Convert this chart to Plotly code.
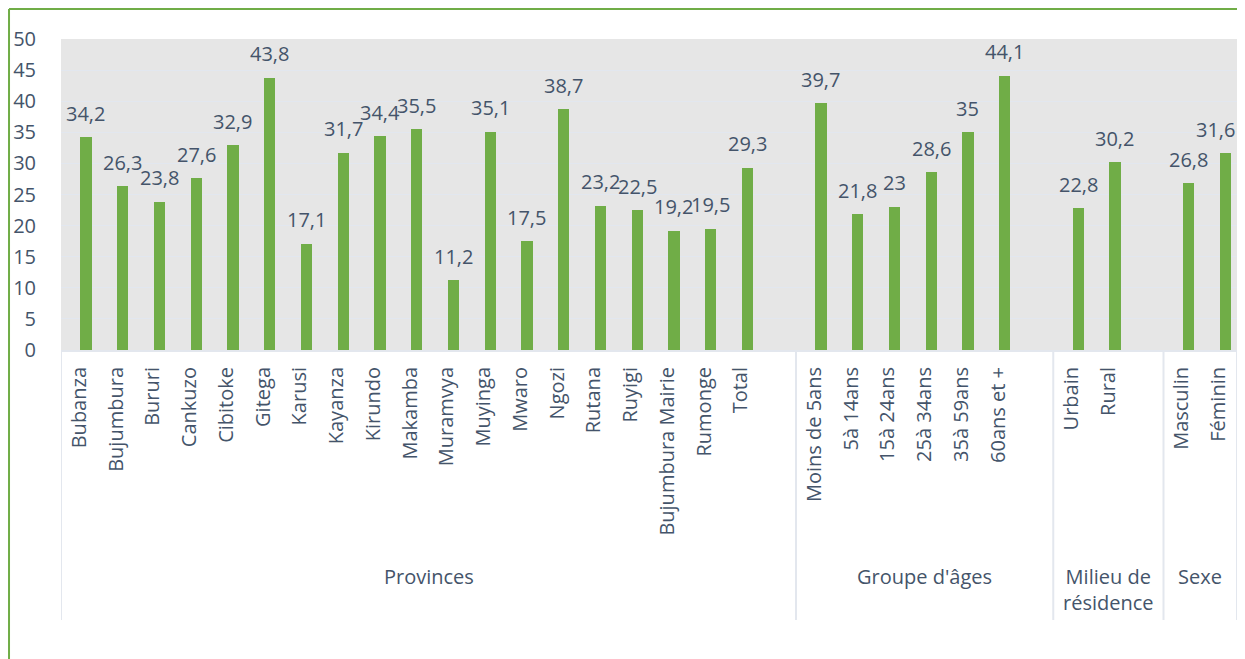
"""Bar chart: prevalence by province, age group, residence and sex."""

import plotly.graph_objects as go

GREEN = "#70AD47"
TEXT = "#44546A"
FONT = "Open Sans"

provinces = ["Bubanza", "Bujumbura", "Bururi", "Cankuzo", "Cibitoke", "Gitega",
             "Karusi", "Kayanza", "Kirundo", "Makamba", "Muramvya", "Muyinga",
             "Mwaro", "Ngozi", "Rutana", "Ruyigi", "Bujumbura Mairie", "Rumonge",
             "Total"]
province_vals = [34.2, 26.3, 23.8, 27.6, 32.9, 43.8, 17.1, 31.7, 34.4, 35.5,
                 11.2, 35.1, 17.5, 38.7, 23.2, 22.5, 19.2, 19.5, 29.3]

ages = ["Moins de 5ans", "5à 14ans", "15à 24ans", "25à 34ans", "35à 59ans", "60ans et +"]
age_vals = [39.7, 21.8, 23, 28.6, 35, 44.1]

milieu = ["Urbain", "Rural"]
milieu_vals = [22.8, 30.2]

sexe = ["Masculin", "Féminin"]
sexe_vals = [26.8, 31.6]

group_names = ["Provinces", "Groupe d'âges", "Milieu de<br>résidence", "Sexe"]
groups = [(provinces, province_vals), (ages, age_vals),
          (milieu, milieu_vals), (sexe, sexe_vals)]

# flatten with a blank slot after every group but the last
cats, vals, bounds = [], [], [-0.5]
for gi, (names, values) in enumerate(groups):
    cats += names
    vals += values
    if gi < len(groups) - 1:
        cats.append(" " * (gi + 1))
        vals.append(None)
    bounds.append(len(cats) - 0.5)

labels = [c for c, v in zip(cats, vals) if v is not None]
label_vals = [v for v in vals if v is not None]

fig = go.Figure()
fig.add_trace(go.Bar(
    x=cats,
    y=vals,
    marker_color=GREEN,
    marker_line_width=0,
    width=0.31,
    offset=0.025,
    hoverinfo="x+y",
))

annotations = []
for i, (c, v) in enumerate(zip(labels, label_vals)):
    ann = dict(
        x=c, y=v, xref="x", yref="y",
        text=f"{v:g}".replace(".", ","),
        showarrow=False, xshift=6.6, yshift=24,
        font=dict(family=FONT, size=20, color=TEXT),
    )
    if i == len(labels) - 1:
        # last label is pushed back inside the chart, as Excel does
        ann.update(xref="paper", x=1, xanchor="right", xshift=0)
    annotations.append(ann)
for i, name in enumerate(group_names):
    annotations.append(dict(
        x=(bounds[i] + bounds[i + 1]) / 2, y=-0.677,
        xref="x", yref="paper", yanchor="top",
        text=name, showarrow=False, align="center",
        font=dict(family=FONT, size=20, color=TEXT),
    ))

shapes = [dict(type="line", xref="x", yref="paper", x0=b, x1=b, y0=0, y1=-0.868,
               line=dict(color="#E3E7EE", width=2)) for b in bounds]
# outer chart border: only the left and top edges show in the picture
shapes.append(dict(type="line", xref="paper", yref="paper",
                   x0=-0.0442, x1=-0.0442, y0=-1.2, y1=1.0965,
                   line=dict(color=GREEN, width=2)))
shapes.append(dict(type="line", xref="paper", yref="paper",
                   x0=-0.0442, x1=1.05, y0=1.0965, y1=1.0965,
                   line=dict(color=GREEN, width=2)))

# the page body adds an 8px margin, so the figure is kept smaller
fig.update_layout(
    width=1229,
    height=651,
    margin=dict(l=53, r=0, t=31, b=309),
    paper_bgcolor="white",
    plot_bgcolor="#E6E6E6",
    showlegend=False,
    bargap=0,
    font=dict(family=FONT, size=20, color=TEXT),
    xaxis=dict(
        type="category",
        tickangle=-90,
        ticks="",
        showgrid=False,
        showline=True,
        linecolor="#E3E7EE",
        linewidth=2,
        ticklabelstandoff=7,
        tickfont=dict(family=FONT, size=20, color=TEXT),
        range=[-0.5, len(cats) - 0.5],
        fixedrange=True,
    ),
    yaxis=dict(
        range=[0, 50],
        dtick=5,
        gridcolor="#E2E7EF",
        gridwidth=1,
        zeroline=False,
        ticks="",
        ticklabelstandoff=24,
        tickfont=dict(family=FONT, size=20, color=TEXT),
        fixedrange=True,
    ),
    annotations=annotations,
    shapes=shapes,
)

fig.write_html("out.html")
